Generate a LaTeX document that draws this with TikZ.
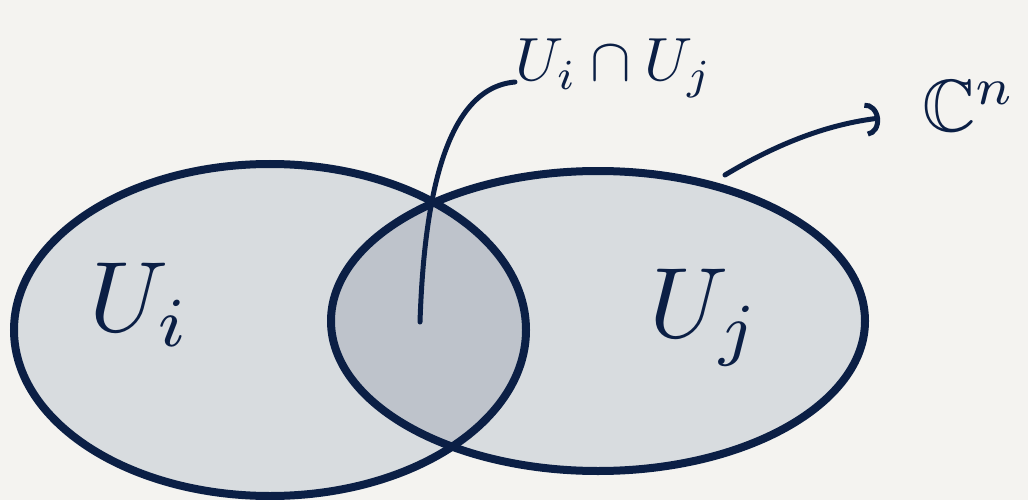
\documentclass[tikz,border=0pt]{standalone}
\usepackage{graphicx}
\usepackage{amssymb}
\usetikzlibrary{arrows.meta}
\definecolor{bg}{HTML}{F4F3F0}
\definecolor{ink}{HTML}{0B1F45}
\definecolor{setfill}{HTML}{D8DCDF}
\definecolor{capfill}{HTML}{BEC3CB}
\begin{document}
\begin{tikzpicture}[x=1pt,y=-1pt,
  setline/.style={draw=ink,line width=8pt},
  leader/.style={draw=ink,line width=5pt,line cap=round},
  lbl/.style={text=ink,inner sep=0pt}]
\fill[bg] (0,0) rectangle (1028,500);
\useasboundingbox (0,0) rectangle (1028,500);
% fills
\fill[setfill] (270,330) ellipse [x radius=256, y radius=166];
\fill[setfill] (598,321) ellipse [x radius=267, y radius=150];
\begin{scope}
  \clip (270,330) ellipse [x radius=256, y radius=166];
  \fill[capfill] (598,321) ellipse [x radius=267, y radius=150];
\end{scope}
% outlines
\draw[setline] (270,330) ellipse [x radius=256, y radius=166];
\draw[setline] (598,321) ellipse [x radius=267, y radius=150];
% labels
\node[lbl] (ui) at (140,305) {\scalebox{10}{$U_i$}};
\node[lbl] (uj) at (705,318) {\scalebox{10}{$U_j$}};
\node[lbl,anchor=west] (cap) at (515,68) {\scalebox{6.1}{$U_i\cap U_j$}};
\node[lbl,anchor=west] (cn) at (922,106) {\scalebox{7.4}{$\mathbb{C}^n$}};
% leader and arrow
\coordinate (capin) at (420,322);
\coordinate (rim) at (725,175);
\coordinate (tip) at (880,118);
\draw[leader] (capin) .. controls (424,200) and (445,88) .. (cap.west |- 0,82);
\draw[leader,-{Arc Barb[length=14pt,width=34pt,line width=5pt]}] (rim) .. controls (780,142) and (830,124) .. (tip);
\end{tikzpicture}
\end{document}
